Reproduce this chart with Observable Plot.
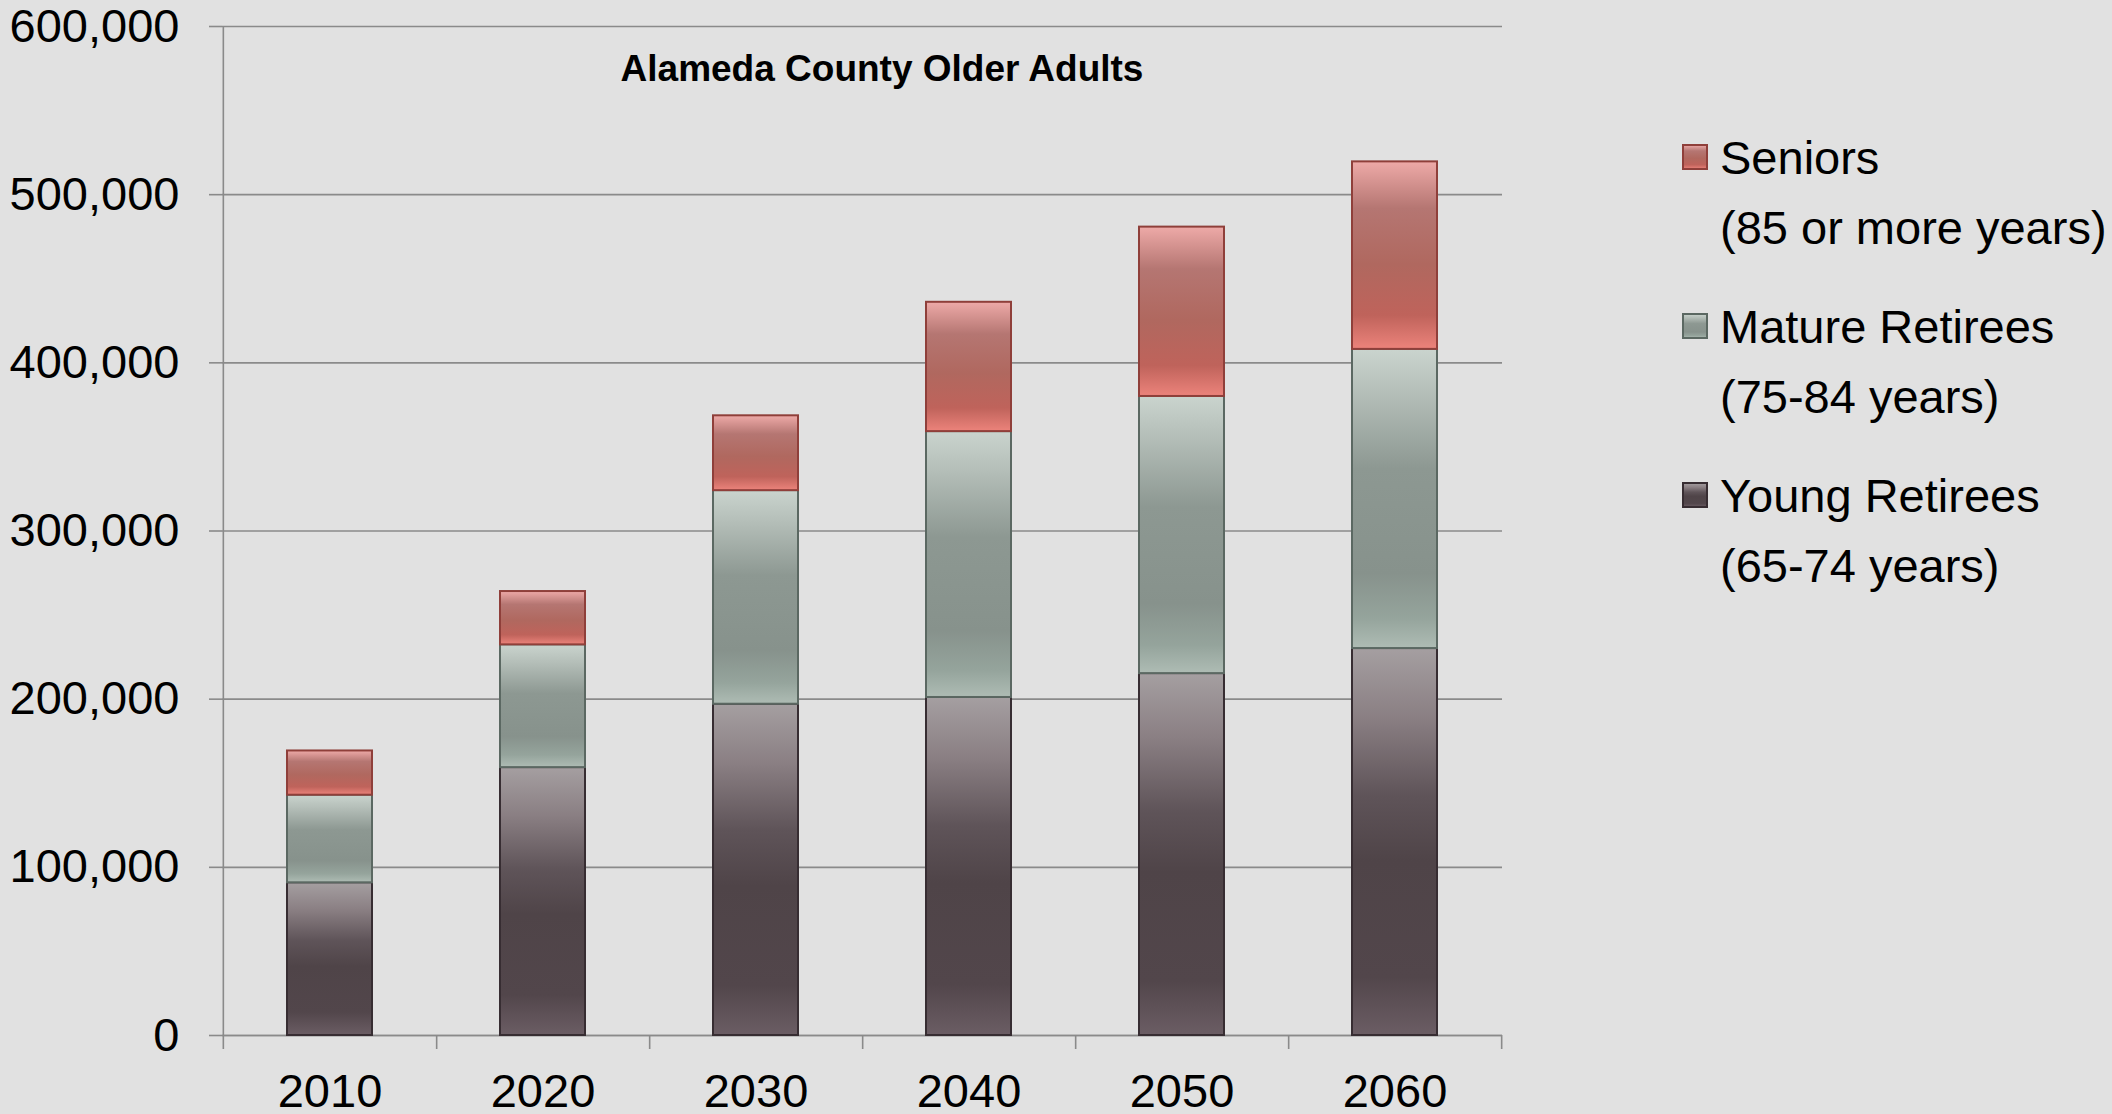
<!DOCTYPE html>
<html>
<head>
<meta charset="utf-8">
<script src="https://cdn.jsdelivr.net/npm/d3@7"></script>
<script src="https://cdn.jsdelivr.net/npm/@observablehq/plot@0.6"></script>
<style>
  html, body { margin: 0; padding: 0; background: #e1e1e1; overflow: hidden; width: 2112px; height: 1114px; }
  #wrap { position: relative; width: 2112px; height: 1114px; font-family: "Liberation Sans", Arial, sans-serif; color: #000; }
  #wrap svg.plot { position: absolute; left: 0; top: 0; }
  .title { position: absolute; left: 882px; top: 50px; transform: translateX(-50%); font-size: 37px; line-height: 37px; font-weight: bold; white-space: nowrap; }
  .legend { position: absolute; left: 1682px; top: 0; }
  .item { position: absolute; left: 0; white-space: nowrap; }
  .item .sw { position: absolute; left: 0; width: 26px; height: 26px; }
  .item .txt { position: absolute; left: 38px; top: 0; font-size: 47px; line-height: 70px; }
</style>
</head>
<body>
<svg width="0" height="0" style="position:absolute">
  <defs>
    <linearGradient id="gYoung" x1="0" y1="0" x2="0" y2="1">
      <stop offset="0" stop-color="#a59fa1"/>
      <stop offset="0.18" stop-color="#8a7f83"/>
      <stop offset="0.38" stop-color="#5f5459"/>
      <stop offset="0.55" stop-color="#4f4448"/>
      <stop offset="0.85" stop-color="#52464b"/>
      <stop offset="1" stop-color="#6b5d64"/>
    </linearGradient>
    <linearGradient id="gMature" x1="0" y1="0" x2="0" y2="1">
      <stop offset="0" stop-color="#cad4ce"/>
      <stop offset="0.15" stop-color="#b4beb8"/>
      <stop offset="0.4" stop-color="#8d9892"/>
      <stop offset="0.75" stop-color="#87928c"/>
      <stop offset="0.9" stop-color="#95a49c"/>
      <stop offset="1" stop-color="#aebcb4"/>
    </linearGradient>
    <linearGradient id="gSeniors" x1="0" y1="0" x2="0" y2="1">
      <stop offset="0" stop-color="#eeaaa8"/>
      <stop offset="0.25" stop-color="#b57672"/>
      <stop offset="0.55" stop-color="#b0685f"/>
      <stop offset="0.82" stop-color="#bf635b"/>
      <stop offset="1" stop-color="#ec837b"/>
    </linearGradient>
  </defs>
</svg>
<div id="wrap"></div>
<script>
// ---- data ----
const years = [2010, 2020, 2030, 2040, 2050, 2060];
const seriesNames = ["Young Retirees", "Mature Retirees", "Seniors"];
const youngRetirees = [90800, 159300, 197000, 201000, 215200, 230100];
const matureRetirees = [52100, 73000, 127000, 158100, 164800, 177900];
const seniors = [26300, 31700, 44500, 76900, 100700, 111500];
const yTicks = [0, 100000, 200000, 300000, 400000, 500000, 600000];
const chartTitle = "Alameda County Older Adults";
const legendItems = [
  ["Seniors", "(85 or more years)"],
  ["Mature Retirees", "(75-84 years)"],
  ["Young Retirees", "(65-74 years)"]
];
const legendSeries = ["Seniors", "Mature Retirees", "Young Retirees"];

// ---- styles ----
const fills = ["url(#gYoung)", "url(#gMature)", "url(#gSeniors)"];
const strokes = {"url(#gYoung)": "#372d32", "url(#gMature)": "#5b6862", "url(#gSeniors)": "#8f3f3a"};
const gridColor = "#8a8a8a";

const valuesBySeries = [youngRetirees, matureRetirees, seniors];
const data = [];
years.forEach((yr, j) => {
  seriesNames.forEach((s, i) => data.push({year: yr, series: s, value: valuesBySeries[i][j]}));
});

const W = 2112, H = 1114, mL = 222, mR = 610, mT = 26, mB = 79;
const step = (W - mL - mR) / years.length;
const plotH = H - mT - mB;

const chart = Plot.plot({
  width: W, height: H,
  marginLeft: mL, marginRight: mR, marginTop: mT, marginBottom: mB,
  style: {background: "transparent", fontFamily: "'Liberation Sans', Arial, sans-serif", fontSize: "47px", color: "#000", overflow: "visible"},
  x: {domain: years, paddingInner: 0.6, paddingOuter: 0.3, label: null},
  y: {domain: [0, 600000], label: null},
  color: {domain: seriesNames, range: fills},
  marks: [
    Plot.gridY(yTicks, {stroke: gridColor, strokeOpacity: 1, strokeWidth: 1.6}),
    Plot.axisY(yTicks, {tickSize: 13, tickPadding: 30, tickFormat: d3.format(","), stroke: gridColor, strokeWidth: 1.6, fill: "#000", fontSize: 47, label: null}),
    Plot.ruleX([years[0]], {dx: -step / 2, stroke: gridColor, strokeWidth: 1.6, insetBottom: -14}),
    Plot.ruleX(years, {dx: step / 2, stroke: gridColor, strokeWidth: 1.6, insetTop: plotH, insetBottom: -14}),
    Plot.ruleY([0], {stroke: gridColor, strokeWidth: 1.6}),
    Plot.barY(data, Plot.stackY({x: "year", y: "value", fill: "series"})),
    Plot.axisX(years, {tickSize: 0, tickPadding: 38, tickFormat: String, fontSize: 47, fill: "#000", label: null})
  ]
});
chart.classList.add("plot");

// per-series outline colour on the bar segments
d3.select(chart).selectAll("rect").each(function() {
  const f = this.getAttribute("fill");
  if (f && strokes[f]) {
    this.setAttribute("stroke", strokes[f]);
    this.setAttribute("stroke-width", "2");
  }
});

const wrap = document.getElementById("wrap");
wrap.appendChild(chart);

const title = document.createElement("div");
title.className = "title";
title.textContent = chartTitle;
wrap.appendChild(title);

// legend
const legend = document.createElement("div");
legend.className = "legend";
const itemTops = [123, 292, 461];
legendItems.forEach((lines, k) => {
  const item = document.createElement("div");
  item.className = "item";
  item.style.top = itemTops[k] + "px";
  const sw = document.createElementNS("http://www.w3.org/2000/svg", "svg");
  sw.setAttribute("class", "sw");
  sw.setAttribute("width", 26); sw.setAttribute("height", 26);
  sw.style.top = "21px";
  const fillId = fills[seriesNames.indexOf(legendSeries[k])];
  const r = document.createElementNS("http://www.w3.org/2000/svg", "rect");
  r.setAttribute("x", 1); r.setAttribute("y", 1); r.setAttribute("width", 24); r.setAttribute("height", 24);
  r.setAttribute("fill", fillId); r.setAttribute("stroke", strokes[fillId]); r.setAttribute("stroke-width", 2);
  sw.appendChild(r);
  item.appendChild(sw);
  const txt = document.createElement("div");
  txt.className = "txt";
  txt.innerHTML = lines.map(l => `<div>${l}</div>`).join("");
  item.appendChild(txt);
  legend.appendChild(item);
});
wrap.appendChild(legend);
</script>
</body>
</html>
